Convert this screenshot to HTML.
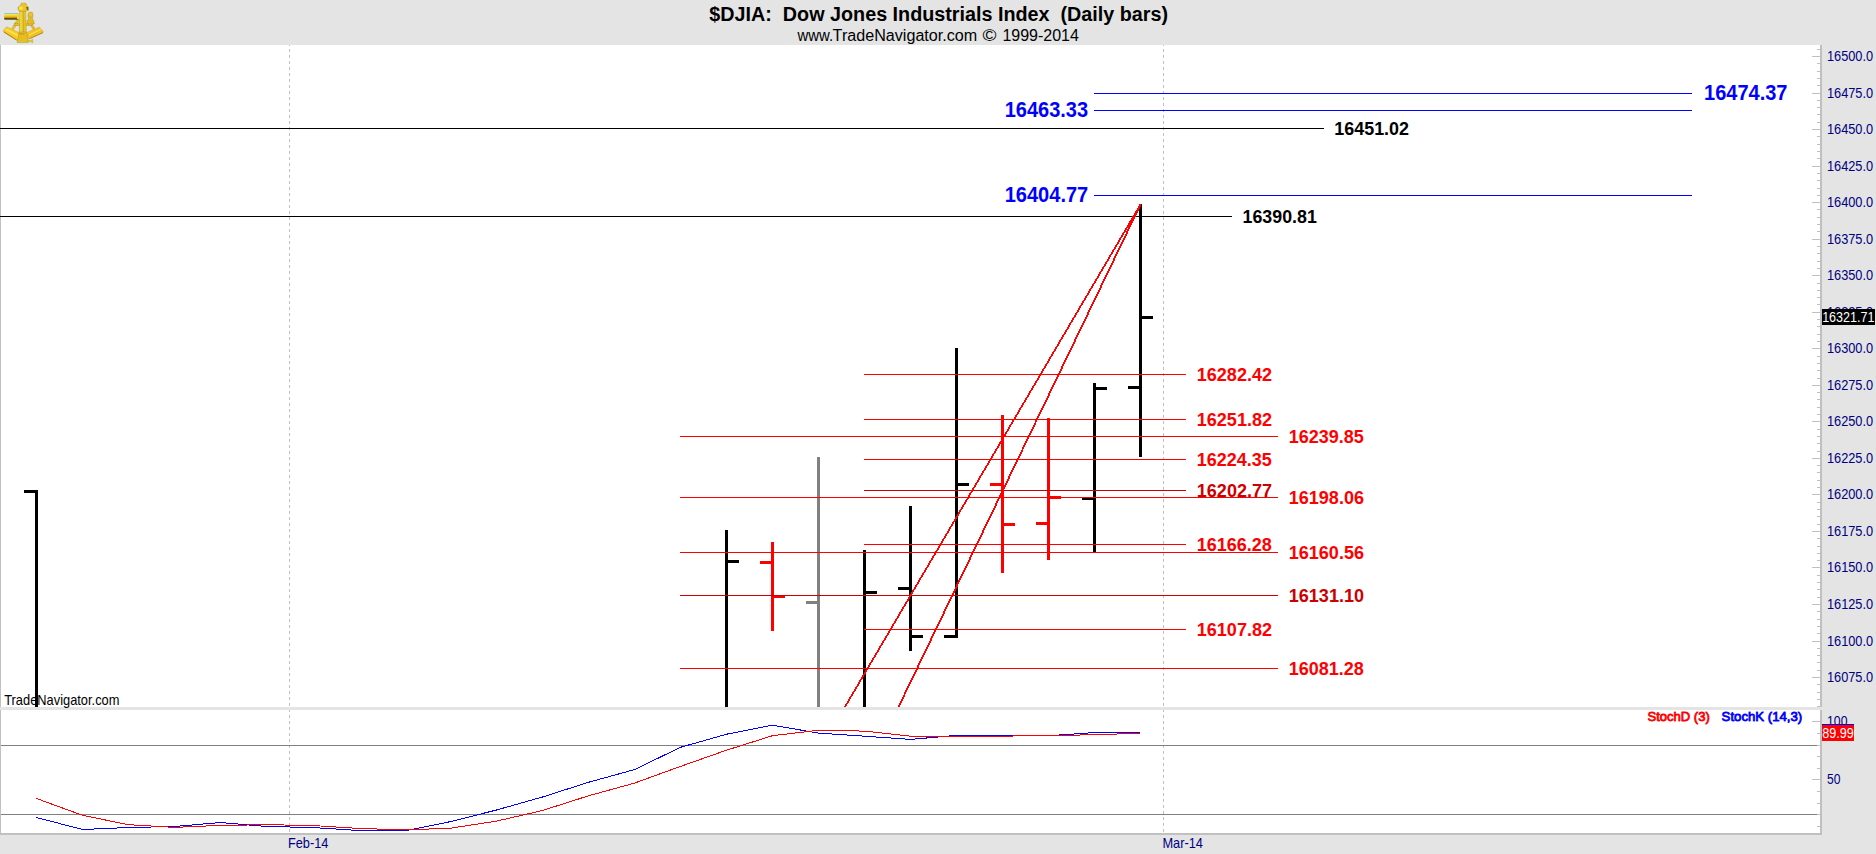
<!DOCTYPE html>
<html lang="en"><head><meta charset="utf-8"><title>$DJIA: Dow Jones Industrials Index (Daily bars)</title>
<style>html,body{margin:0;padding:0;background:#e4e4e4;overflow:hidden}svg{display:block}text{white-space:pre}</style></head>
<body>
<svg width="1876" height="854" viewBox="0 0 1876 854" font-family='"Liberation Sans", Arial, sans-serif'>
<defs>
<linearGradient id="gold" x1="0" y1="0" x2="0" y2="1"><stop offset="0" stop-color="#f7e25a"/><stop offset="0.55" stop-color="#f2c21c"/><stop offset="1" stop-color="#b58a0c"/></linearGradient>
<linearGradient id="tube" x1="0" y1="0" x2="0" y2="1"><stop offset="0" stop-color="#8ec8b4"/><stop offset="0.16" stop-color="#9fd0b0"/><stop offset="0.24" stop-color="#f8e658"/><stop offset="0.5" stop-color="#f1c21c"/><stop offset="0.72" stop-color="#b48c10"/><stop offset="0.86" stop-color="#3c3008"/><stop offset="1" stop-color="#6a5a18"/></linearGradient>
<clipPath id="mainclip"><rect x="1" y="45" width="1819" height="662"/></clipPath>
<clipPath id="spclip"><rect x="1" y="710" width="1819" height="123"/></clipPath>
</defs>
<rect x="0" y="0" width="1876" height="854" fill="#e4e4e4"/>
<rect x="0" y="45" width="1820" height="662" fill="#ffffff"/>
<rect x="0" y="710" width="1820" height="123" fill="#ffffff"/>
<g shape-rendering="crispEdges">
<rect x="0" y="45" width="1" height="662" fill="#c0c0c0"/>
<rect x="0" y="710" width="1" height="123" fill="#c0c0c0"/>
<g clip-path="url(#mainclip)"><line x1="289.5" y1="43" x2="289.5" y2="707" stroke="#c0c0c0" stroke-width="1" stroke-dasharray="3 3"/></g>
<g clip-path="url(#spclip)"><line x1="289.5" y1="709" x2="289.5" y2="833" stroke="#c0c0c0" stroke-width="1" stroke-dasharray="3 3"/></g>
<g clip-path="url(#mainclip)"><line x1="1163.5" y1="43" x2="1163.5" y2="707" stroke="#c0c0c0" stroke-width="1" stroke-dasharray="3 3"/></g>
<g clip-path="url(#spclip)"><line x1="1163.5" y1="709" x2="1163.5" y2="833" stroke="#c0c0c0" stroke-width="1" stroke-dasharray="3 3"/></g>
<rect x="35" y="490" width="3" height="217" fill="#000000"/>
<rect x="24" y="490" width="11" height="3" fill="#000000"/>
<rect x="725" y="530" width="3" height="177" fill="#000000"/>
<rect x="728" y="560" width="11" height="3" fill="#000000"/>
<rect x="771" y="542" width="3" height="89" fill="#ff0000"/>
<rect x="760" y="561" width="11" height="3" fill="#ff0000"/>
<rect x="774" y="595" width="11" height="3" fill="#ff0000"/>
<rect x="817" y="457" width="3" height="250" fill="#808080"/>
<rect x="806" y="601" width="11" height="3" fill="#808080"/>
<rect x="863" y="550" width="3" height="157" fill="#000000"/>
<rect x="866" y="591" width="11" height="3" fill="#000000"/>
<rect x="909" y="506" width="3" height="145" fill="#000000"/>
<rect x="898" y="587" width="11" height="3" fill="#000000"/>
<rect x="912" y="635" width="11" height="3" fill="#000000"/>
<rect x="955" y="348" width="3" height="290" fill="#000000"/>
<rect x="944" y="635" width="11" height="3" fill="#000000"/>
<rect x="958" y="483" width="11" height="3" fill="#000000"/>
<rect x="1001" y="415" width="3" height="158" fill="#ff0000"/>
<rect x="990" y="483" width="11" height="3" fill="#ff0000"/>
<rect x="1004" y="523" width="11" height="3" fill="#ff0000"/>
<rect x="1047" y="418" width="3" height="142" fill="#ff0000"/>
<rect x="1036" y="522" width="11" height="3" fill="#ff0000"/>
<rect x="1050" y="496" width="11" height="3" fill="#ff0000"/>
<rect x="1093" y="383" width="3" height="170" fill="#000000"/>
<rect x="1082" y="497" width="11" height="3" fill="#000000"/>
<rect x="1096" y="387" width="11" height="3" fill="#000000"/>
<rect x="1139" y="204" width="3" height="253" fill="#000000"/>
<rect x="1128" y="386" width="11" height="3" fill="#000000"/>
<rect x="1142" y="316" width="11" height="3" fill="#000000"/>
<rect x="1094" y="93" width="598" height="1" fill="#0000ff"/>
<rect x="1094" y="110" width="598" height="1" fill="#0000ff"/>
<rect x="0" y="128" width="1324" height="1" fill="#000000"/>
<rect x="1094" y="195" width="598" height="1" fill="#0000ff"/>
<rect x="0" y="216" width="1232" height="1" fill="#000000"/>
<rect x="864" y="374" width="322" height="1" fill="#ff0000"/>
<rect x="864" y="419" width="322" height="1" fill="#ff0000"/>
<rect x="680" y="436" width="598" height="1" fill="#ff0000"/>
<rect x="864" y="459" width="322" height="1" fill="#ff0000"/>
<rect x="864" y="490" width="322" height="1" fill="#cc0000"/>
<rect x="680" y="497" width="598" height="1" fill="#ff0000"/>
<rect x="864" y="544" width="322" height="1" fill="#ff0000"/>
<rect x="680" y="552" width="598" height="1" fill="#ff0000"/>
<rect x="680" y="595" width="598" height="1" fill="#cc0000"/>
<rect x="864" y="629" width="322" height="1" fill="#ff0000"/>
<rect x="680" y="668" width="598" height="1" fill="#ff0000"/>
<g clip-path="url(#mainclip)" stroke="#ff0000" fill="none">
<line x1="1140.5" y1="204.5" x2="837.25" y2="720" stroke-width="1.72"/>
<line x1="1140.5" y1="204.5" x2="892.24" y2="720" stroke-width="1.8"/>
</g>
<rect x="0" y="707" width="1822" height="3" fill="#e4e4e4"/>
<rect x="1" y="745" width="1819" height="1" fill="#808080"/>
<rect x="1" y="814" width="1819" height="1" fill="#808080"/>
<g clip-path="url(#spclip)" fill="none" stroke-width="1">
<polyline stroke="#0000ff" points="36.5,817.5 82.5,829.5 128.5,827.5 174.5,826.5 220.5,822.5 266.5,826.5 312.5,827.5 358.5,830.5 404.5,831.0 450.5,821.6 496.5,810.0 542.5,797.0 588.5,782.3 634.5,769.6 680.5,747.3 726.5,734.2 772.5,725.2 818.5,733.1 864.5,736.2 910.5,739.4 956.5,735.4 1002.5,735.4 1048.5,735.7 1094.5,732.6 1140.5,732.3"/>
<polyline stroke="#ff0000" points="36.5,798.5 82.5,815.3 128.5,824.7 174.5,827.4 220.5,825.4 266.5,824.7 312.5,825.5 358.5,828.4 404.5,829.9 450.5,828.2 496.5,821.1 542.5,810.5 588.5,795.8 634.5,783.1 680.5,766.4 726.5,750.2 772.5,735.7 818.5,730.3 864.5,731.1 910.5,736.2 956.5,736.1 1002.5,736.1 1048.5,735.7 1094.5,734.7 1140.5,733.3"/>
</g>
<rect x="1820" y="45" width="2" height="662" fill="#c0c0c0"/>
<rect x="1820" y="710" width="2" height="125" fill="#c0c0c0"/>
<rect x="0" y="833" width="1822" height="2" fill="#c0c0c0"/>
<rect x="1817" y="49" width="3" height="1" fill="#c0c0c0"/>
<rect x="1812" y="56" width="8" height="1" fill="#c0c0c0"/>
<rect x="1817" y="63" width="3" height="1" fill="#c0c0c0"/>
<rect x="1817" y="71" width="3" height="1" fill="#c0c0c0"/>
<rect x="1817" y="78" width="3" height="1" fill="#c0c0c0"/>
<rect x="1817" y="85" width="3" height="1" fill="#c0c0c0"/>
<rect x="1812" y="93" width="8" height="1" fill="#c0c0c0"/>
<rect x="1817" y="100" width="3" height="1" fill="#c0c0c0"/>
<rect x="1817" y="107" width="3" height="1" fill="#c0c0c0"/>
<rect x="1817" y="114" width="3" height="1" fill="#c0c0c0"/>
<rect x="1817" y="122" width="3" height="1" fill="#c0c0c0"/>
<rect x="1812" y="129" width="8" height="1" fill="#c0c0c0"/>
<rect x="1817" y="136" width="3" height="1" fill="#c0c0c0"/>
<rect x="1817" y="144" width="3" height="1" fill="#c0c0c0"/>
<rect x="1817" y="151" width="3" height="1" fill="#c0c0c0"/>
<rect x="1817" y="158" width="3" height="1" fill="#c0c0c0"/>
<rect x="1812" y="166" width="8" height="1" fill="#c0c0c0"/>
<rect x="1817" y="173" width="3" height="1" fill="#c0c0c0"/>
<rect x="1817" y="180" width="3" height="1" fill="#c0c0c0"/>
<rect x="1817" y="188" width="3" height="1" fill="#c0c0c0"/>
<rect x="1817" y="195" width="3" height="1" fill="#c0c0c0"/>
<rect x="1812" y="202" width="8" height="1" fill="#c0c0c0"/>
<rect x="1817" y="209" width="3" height="1" fill="#c0c0c0"/>
<rect x="1817" y="217" width="3" height="1" fill="#c0c0c0"/>
<rect x="1817" y="224" width="3" height="1" fill="#c0c0c0"/>
<rect x="1817" y="231" width="3" height="1" fill="#c0c0c0"/>
<rect x="1812" y="239" width="8" height="1" fill="#c0c0c0"/>
<rect x="1817" y="246" width="3" height="1" fill="#c0c0c0"/>
<rect x="1817" y="253" width="3" height="1" fill="#c0c0c0"/>
<rect x="1817" y="261" width="3" height="1" fill="#c0c0c0"/>
<rect x="1817" y="268" width="3" height="1" fill="#c0c0c0"/>
<rect x="1812" y="275" width="8" height="1" fill="#c0c0c0"/>
<rect x="1817" y="283" width="3" height="1" fill="#c0c0c0"/>
<rect x="1817" y="290" width="3" height="1" fill="#c0c0c0"/>
<rect x="1817" y="297" width="3" height="1" fill="#c0c0c0"/>
<rect x="1817" y="304" width="3" height="1" fill="#c0c0c0"/>
<rect x="1812" y="312" width="8" height="1" fill="#c0c0c0"/>
<rect x="1817" y="319" width="3" height="1" fill="#c0c0c0"/>
<rect x="1817" y="326" width="3" height="1" fill="#c0c0c0"/>
<rect x="1817" y="334" width="3" height="1" fill="#c0c0c0"/>
<rect x="1817" y="341" width="3" height="1" fill="#c0c0c0"/>
<rect x="1812" y="348" width="8" height="1" fill="#c0c0c0"/>
<rect x="1817" y="356" width="3" height="1" fill="#c0c0c0"/>
<rect x="1817" y="363" width="3" height="1" fill="#c0c0c0"/>
<rect x="1817" y="370" width="3" height="1" fill="#c0c0c0"/>
<rect x="1817" y="378" width="3" height="1" fill="#c0c0c0"/>
<rect x="1812" y="385" width="8" height="1" fill="#c0c0c0"/>
<rect x="1817" y="392" width="3" height="1" fill="#c0c0c0"/>
<rect x="1817" y="399" width="3" height="1" fill="#c0c0c0"/>
<rect x="1817" y="407" width="3" height="1" fill="#c0c0c0"/>
<rect x="1817" y="414" width="3" height="1" fill="#c0c0c0"/>
<rect x="1812" y="421" width="8" height="1" fill="#c0c0c0"/>
<rect x="1817" y="429" width="3" height="1" fill="#c0c0c0"/>
<rect x="1817" y="436" width="3" height="1" fill="#c0c0c0"/>
<rect x="1817" y="443" width="3" height="1" fill="#c0c0c0"/>
<rect x="1817" y="451" width="3" height="1" fill="#c0c0c0"/>
<rect x="1812" y="458" width="8" height="1" fill="#c0c0c0"/>
<rect x="1817" y="465" width="3" height="1" fill="#c0c0c0"/>
<rect x="1817" y="472" width="3" height="1" fill="#c0c0c0"/>
<rect x="1817" y="480" width="3" height="1" fill="#c0c0c0"/>
<rect x="1817" y="487" width="3" height="1" fill="#c0c0c0"/>
<rect x="1812" y="494" width="8" height="1" fill="#c0c0c0"/>
<rect x="1817" y="502" width="3" height="1" fill="#c0c0c0"/>
<rect x="1817" y="509" width="3" height="1" fill="#c0c0c0"/>
<rect x="1817" y="516" width="3" height="1" fill="#c0c0c0"/>
<rect x="1817" y="524" width="3" height="1" fill="#c0c0c0"/>
<rect x="1812" y="531" width="8" height="1" fill="#c0c0c0"/>
<rect x="1817" y="538" width="3" height="1" fill="#c0c0c0"/>
<rect x="1817" y="546" width="3" height="1" fill="#c0c0c0"/>
<rect x="1817" y="553" width="3" height="1" fill="#c0c0c0"/>
<rect x="1817" y="560" width="3" height="1" fill="#c0c0c0"/>
<rect x="1812" y="567" width="8" height="1" fill="#c0c0c0"/>
<rect x="1817" y="575" width="3" height="1" fill="#c0c0c0"/>
<rect x="1817" y="582" width="3" height="1" fill="#c0c0c0"/>
<rect x="1817" y="589" width="3" height="1" fill="#c0c0c0"/>
<rect x="1817" y="597" width="3" height="1" fill="#c0c0c0"/>
<rect x="1812" y="604" width="8" height="1" fill="#c0c0c0"/>
<rect x="1817" y="611" width="3" height="1" fill="#c0c0c0"/>
<rect x="1817" y="619" width="3" height="1" fill="#c0c0c0"/>
<rect x="1817" y="626" width="3" height="1" fill="#c0c0c0"/>
<rect x="1817" y="633" width="3" height="1" fill="#c0c0c0"/>
<rect x="1812" y="641" width="8" height="1" fill="#c0c0c0"/>
<rect x="1817" y="648" width="3" height="1" fill="#c0c0c0"/>
<rect x="1817" y="655" width="3" height="1" fill="#c0c0c0"/>
<rect x="1817" y="662" width="3" height="1" fill="#c0c0c0"/>
<rect x="1817" y="670" width="3" height="1" fill="#c0c0c0"/>
<rect x="1812" y="677" width="8" height="1" fill="#c0c0c0"/>
<rect x="1817" y="684" width="3" height="1" fill="#c0c0c0"/>
<rect x="1817" y="692" width="3" height="1" fill="#c0c0c0"/>
<rect x="1817" y="699" width="3" height="1" fill="#c0c0c0"/>
<rect x="1817" y="706" width="3" height="1" fill="#c0c0c0"/>
<rect x="1812" y="721" width="8" height="1" fill="#c0c0c0"/>
<rect x="1817" y="733" width="3" height="1" fill="#c0c0c0"/>
<rect x="1817" y="745" width="3" height="1" fill="#c0c0c0"/>
<rect x="1817" y="756" width="3" height="1" fill="#c0c0c0"/>
<rect x="1817" y="768" width="3" height="1" fill="#c0c0c0"/>
<rect x="1812" y="779" width="8" height="1" fill="#c0c0c0"/>
<rect x="1817" y="791" width="3" height="1" fill="#c0c0c0"/>
<rect x="1817" y="803" width="3" height="1" fill="#c0c0c0"/>
<rect x="1817" y="814" width="3" height="1" fill="#c0c0c0"/>
<rect x="1817" y="826" width="3" height="1" fill="#c0c0c0"/>
</g>
<text x="709.34" y="20.5" font-size="20" fill="#000" font-weight="bold" textLength="458.74" lengthAdjust="spacingAndGlyphs">$DJIA:&#160; Dow Jones Industrials Index&#160; (Daily bars)</text>
<text x="797.52" y="40.9" font-size="16" fill="#000" font-weight="normal" textLength="35.61" lengthAdjust="spacingAndGlyphs">www.</text>
<text x="832.64" y="40.9" font-size="16" fill="#000" font-weight="normal" textLength="144.61" lengthAdjust="spacingAndGlyphs">TradeNavigator.com</text>
<text x="982.61" y="40.9" font-size="16" fill="#000" font-weight="normal" textLength="13.98" lengthAdjust="spacingAndGlyphs">&#169;</text>
<text x="1002.38" y="40.9" font-size="16" fill="#000" font-weight="normal" textLength="76.49" lengthAdjust="spacingAndGlyphs">1999-2014</text>
<text x="1826.93" y="60.8" font-size="14.2" fill="#000080" font-weight="normal" textLength="46.17" lengthAdjust="spacingAndGlyphs">16500.0</text>
<text x="1826.93" y="97.8" font-size="14.2" fill="#000080" font-weight="normal" textLength="46.17" lengthAdjust="spacingAndGlyphs">16475.0</text>
<text x="1826.93" y="133.8" font-size="14.2" fill="#000080" font-weight="normal" textLength="46.17" lengthAdjust="spacingAndGlyphs">16450.0</text>
<text x="1826.93" y="170.8" font-size="14.2" fill="#000080" font-weight="normal" textLength="46.17" lengthAdjust="spacingAndGlyphs">16425.0</text>
<text x="1826.93" y="206.8" font-size="14.2" fill="#000080" font-weight="normal" textLength="46.17" lengthAdjust="spacingAndGlyphs">16400.0</text>
<text x="1826.93" y="243.8" font-size="14.2" fill="#000080" font-weight="normal" textLength="46.17" lengthAdjust="spacingAndGlyphs">16375.0</text>
<text x="1826.93" y="279.8" font-size="14.2" fill="#000080" font-weight="normal" textLength="46.17" lengthAdjust="spacingAndGlyphs">16350.0</text>
<text x="1826.93" y="316.8" font-size="14.2" fill="#000080" font-weight="normal" textLength="46.17" lengthAdjust="spacingAndGlyphs">16325.0</text>
<text x="1826.93" y="352.8" font-size="14.2" fill="#000080" font-weight="normal" textLength="46.17" lengthAdjust="spacingAndGlyphs">16300.0</text>
<text x="1826.93" y="389.8" font-size="14.2" fill="#000080" font-weight="normal" textLength="46.17" lengthAdjust="spacingAndGlyphs">16275.0</text>
<text x="1826.93" y="425.8" font-size="14.2" fill="#000080" font-weight="normal" textLength="46.17" lengthAdjust="spacingAndGlyphs">16250.0</text>
<text x="1826.93" y="462.8" font-size="14.2" fill="#000080" font-weight="normal" textLength="46.17" lengthAdjust="spacingAndGlyphs">16225.0</text>
<text x="1826.93" y="498.8" font-size="14.2" fill="#000080" font-weight="normal" textLength="46.17" lengthAdjust="spacingAndGlyphs">16200.0</text>
<text x="1826.93" y="535.8" font-size="14.2" fill="#000080" font-weight="normal" textLength="46.17" lengthAdjust="spacingAndGlyphs">16175.0</text>
<text x="1826.93" y="571.8" font-size="14.2" fill="#000080" font-weight="normal" textLength="46.17" lengthAdjust="spacingAndGlyphs">16150.0</text>
<text x="1826.93" y="608.8" font-size="14.2" fill="#000080" font-weight="normal" textLength="46.17" lengthAdjust="spacingAndGlyphs">16125.0</text>
<text x="1826.93" y="645.8" font-size="14.2" fill="#000080" font-weight="normal" textLength="46.17" lengthAdjust="spacingAndGlyphs">16100.0</text>
<text x="1826.93" y="681.8" font-size="14.2" fill="#000080" font-weight="normal" textLength="46.17" lengthAdjust="spacingAndGlyphs">16075.0</text>
<text x="1827.07" y="725.8" font-size="14.2" fill="#000080" font-weight="normal" textLength="20.41" lengthAdjust="spacingAndGlyphs">100</text>
<text x="1827.12" y="783.8" font-size="14.2" fill="#000080" font-weight="normal" textLength="13.46" lengthAdjust="spacingAndGlyphs">50</text>
<rect x="1822" y="309" width="53" height="16" fill="#000" shape-rendering="crispEdges"/>
<text x="1822.14" y="321.9" font-size="14.6" fill="#fff" font-weight="normal" textLength="52.37" lengthAdjust="spacingAndGlyphs">16321.71</text>
<rect x="1822" y="724" width="32" height="1" fill="#0000ff" shape-rendering="crispEdges"/>
<rect x="1822" y="725" width="32" height="16" fill="#ff0000" shape-rendering="crispEdges"/>
<text x="1822.15" y="737.9" font-size="14.6" fill="#fff" font-weight="normal" textLength="31.65" lengthAdjust="spacingAndGlyphs">89.99</text>
<text x="1704.04" y="99.9" font-size="22" fill="#0000ff" font-weight="bold" textLength="83.44" lengthAdjust="spacingAndGlyphs">16474.37</text>
<text x="1004.64" y="116.9" font-size="22" fill="#0000ff" font-weight="bold" textLength="83.48" lengthAdjust="spacingAndGlyphs">16463.33</text>
<text x="1004.64" y="201.9" font-size="22" fill="#0000ff" font-weight="bold" textLength="83.64" lengthAdjust="spacingAndGlyphs">16404.77</text>
<text x="1334.27" y="134.9" font-size="19" fill="#000000" font-weight="bold" textLength="74.75" lengthAdjust="spacingAndGlyphs">16451.02</text>
<text x="1242.58" y="222.9" font-size="19" fill="#000000" font-weight="bold" textLength="74.22" lengthAdjust="spacingAndGlyphs">16390.81</text>
<text x="1196.76" y="380.9" font-size="19" fill="#ff0000" font-weight="bold" textLength="75.26" lengthAdjust="spacingAndGlyphs">16282.42</text>
<text x="1196.76" y="425.9" font-size="19" fill="#ff0000" font-weight="bold" textLength="75.26" lengthAdjust="spacingAndGlyphs">16251.82</text>
<text x="1196.77" y="465.9" font-size="19" fill="#ff0000" font-weight="bold" textLength="75.03" lengthAdjust="spacingAndGlyphs">16224.35</text>
<text x="1196.76" y="496.9" font-size="19" fill="#cc0000" font-weight="bold" textLength="75.33" lengthAdjust="spacingAndGlyphs">16202.77</text>
<text x="1196.77" y="550.9" font-size="19" fill="#ff0000" font-weight="bold" textLength="75.09" lengthAdjust="spacingAndGlyphs">16166.28</text>
<text x="1196.76" y="635.9" font-size="19" fill="#ff0000" font-weight="bold" textLength="75.26" lengthAdjust="spacingAndGlyphs">16107.82</text>
<text x="1288.77" y="442.9" font-size="19" fill="#ff0000" font-weight="bold" textLength="75.03" lengthAdjust="spacingAndGlyphs">16239.85</text>
<text x="1288.76" y="503.9" font-size="19" fill="#ff0000" font-weight="bold" textLength="75.19" lengthAdjust="spacingAndGlyphs">16198.06</text>
<text x="1288.76" y="558.9" font-size="19" fill="#ff0000" font-weight="bold" textLength="75.19" lengthAdjust="spacingAndGlyphs">16160.56</text>
<text x="1288.76" y="601.9" font-size="19" fill="#cc0000" font-weight="bold" textLength="75.28" lengthAdjust="spacingAndGlyphs">16131.10</text>
<text x="1288.77" y="674.9" font-size="19" fill="#ff0000" font-weight="bold" textLength="75.09" lengthAdjust="spacingAndGlyphs">16081.28</text>
<text x="4.21" y="704.9" font-size="14.6" fill="#000" font-weight="normal" textLength="115.22" lengthAdjust="spacingAndGlyphs">TradeNavigator.com</text>
<text x="1647.51" y="720.7" font-size="13.4" fill="#ff0000" font-weight="normal" stroke="#ff0000" stroke-width="0.8" stroke-linejoin="round" textLength="62.30" lengthAdjust="spacingAndGlyphs">StochD (3)</text>
<text x="1721.60" y="720.7" font-size="13.4" fill="#0000ff" font-weight="normal" stroke="#0000ff" stroke-width="0.8" stroke-linejoin="round" textLength="80.62" lengthAdjust="spacingAndGlyphs">StochK (14,3)</text>
<text x="287.95" y="848.2" font-size="14.6" fill="#000080" font-weight="normal" textLength="40.42" lengthAdjust="spacingAndGlyphs">Feb-14</text>
<text x="1162.45" y="848.2" font-size="14.6" fill="#000080" font-weight="normal" textLength="40.52" lengthAdjust="spacingAndGlyphs">Mar-14</text>
<g id="logo">
<path d="M17.2 19.5 L19.6 20.3 L13.6 29.6 L11.6 28.4 Z" fill="#e6c526" stroke="#b89a14" stroke-width="0.4"/>
<path d="M28.6 22.6 L30.8 22.2 L35 28.4 L33.2 29.8 Z" fill="#e9b82a" stroke="#b89a14" stroke-width="0.4"/>
<rect x="14.3" y="23.6" width="18.2" height="2" fill="#e3c22a" stroke="#a88a10" stroke-width="0.4"/>
<path d="M3.4 30.6 L6.6 26.8 L19 32.6 L19 40.4 L16.6 40.2 L3.6 32 Z" fill="#fbc922" stroke="#c9a012" stroke-width="0.4"/>
<path d="M43.2 31.4 L39.2 27 L27 32.4 L27 39.4 L29.4 38.6 L43 32.6 Z" fill="#f3c222" stroke="#c9a012" stroke-width="0.4"/>
<path d="M6 29.4 L17.8 35.4" stroke="#ffe760" stroke-width="1.3" fill="none"/>
<path d="M4 32 L16.6 40" stroke="#7a6410" stroke-width="0.7" fill="none"/>
<path d="M43 32.6 L29.4 38.8" stroke="#7a6410" stroke-width="0.6" fill="none"/>
<path d="M41 29.4 L29 35" stroke="#ffe95e" stroke-width="1" fill="none"/>
<path d="M19.7 10.5 L25.6 10.5 L26.4 33 L19.2 33 Z" fill="#e2c628" stroke="#b0900f" stroke-width="0.4"/>
<rect x="23.2" y="12" width="0.9" height="21" fill="#dba32a"/>
<rect x="20.4" y="12" width="1.1" height="20" fill="#f6e052"/>
<path d="M19.4 32 L26.2 32 L28.4 42.6 L17 42.6 Z" fill="#dcc326" stroke="#a88a10" stroke-width="0.4"/>
<rect x="18.6" y="36.2" width="8" height="2.4" fill="#f4b426"/>
<rect x="19.6" y="33.2" width="5" height="1.6" fill="#d99a20"/>
<path d="M28.4 40.2 L30.4 40.6 L32.8 39.2 L32.8 42.9 L30.4 41.8 L28.4 41.6 Z" fill="#f0c624" stroke="#b0900f" stroke-width="0.3"/>
<path d="M20.6 5.6 L21.2 3.2 L25.8 3.2 L26.6 5.6 L28.2 6.8 L28.2 10.4 L26 11.2 L20 11.2 L18 10 L18 7 Z" fill="#e9c726" stroke="#a08410" stroke-width="0.4"/>
<rect x="21.6" y="3.4" width="3.4" height="2" fill="#f8b82c"/>
<path d="M26.2 7 L28.2 7 L28.4 10.6 L26.8 9.6 Z" fill="#6e5c16"/>
<rect x="19.4" y="6.6" width="3.2" height="3.2" fill="#f7e45a"/>
<path d="M28.2 13 L30 12 L32.4 12.6 L33 15.6 L32.4 19 L33.6 20.6 L34.4 24 L27.4 24 L27 20.6 L28.6 19 L27.8 16 Z" fill="#e4b92a" stroke="#a88a10" stroke-width="0.4"/>
<rect x="29.2" y="13.4" width="2.6" height="2.4" fill="#f6c436"/>
<rect x="28.6" y="16.6" width="3.4" height="2" fill="#c9c030"/>
<rect x="4.2" y="12.9" width="14.4" height="6.9" rx="0.8" fill="url(#tube)"/>
<rect x="17" y="14" width="2.4" height="5" fill="#f1d53c"/>
</g>
</svg>
</body></html>
